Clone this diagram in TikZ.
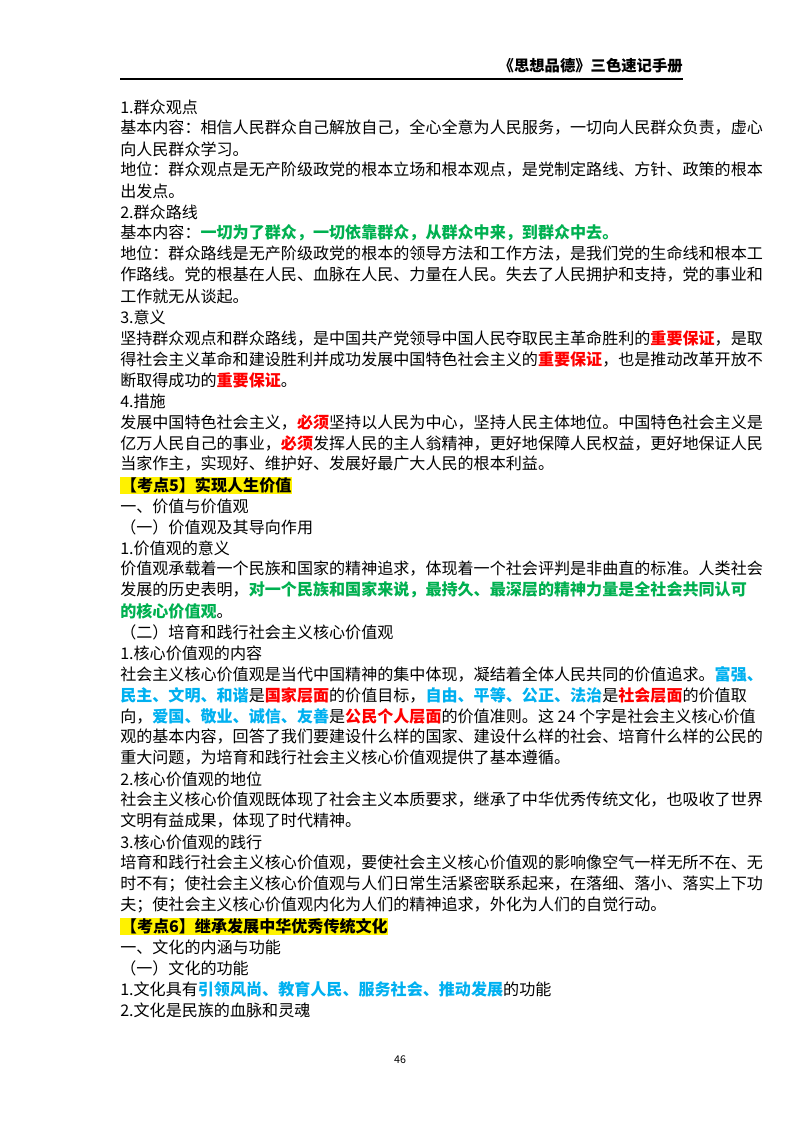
\documentclass[tikz,border=0pt]{standalone}
\usepackage{fontspec}
\setmainfont{Noto Sans CJK SC}
\definecolor{kgreen}{RGB}{0,176,80}
\definecolor{kred}{RGB}{255,0,0}
\definecolor{kblue}{RGB}{0,176,240}
\newcommand{\G}[1]{\textcolor{kgreen}{\textbf{#1}}}
\newcommand{\R}[1]{\textcolor{kred}{\textbf{#1}}}
\newcommand{\B}[1]{\textcolor{kblue}{\textbf{#1}}}
\newcommand{\HL}[1]{\colorbox{yellow}{\textbf{#1}}}
\tikzset{ln/.style={anchor=west,inner sep=0pt,font=\fontsize{12.05}{14}\selectfont}}
\setlength{\fboxsep}{0.5pt}
\begin{document}
\begin{tikzpicture}[x=0.75pt,y=-0.75pt]
\useasboundingbox (0,0) rectangle (800,1132);
\node[anchor=east,inner sep=0pt,font=\fontsize{11.5}{14}\selectfont\bfseries] (hd) at (683,66) {《思想品德》三色速记手册};
\coordinate (r1) at (120,79); \coordinate (r2) at (683,79);
\draw[line width=0.8pt] (r1) -- (r2);
\node[ln] (l1) at (120,107) {1.群众观点};
\node[ln] (l2) at (120,128) {基本内容：相信人民群众自己解放自己，全心全意为人民服务，一切向人民群众负责，虚心};
\node[ln] (l3) at (120,149) {向人民群众学习。};
\node[ln] (l4) at (120,170) {地位：群众观点是无产阶级政党的根本立场和根本观点，是党制定路线、方针、政策的根本};
\node[ln] (l5) at (120,191) {出发点。};
\node[ln] (l6) at (120,212) {2.群众路线};
\node[ln] (l7) at (120,233) {基本内容：\G{一切为了群众，一切依靠群众，从群众中来，到群众中去。}};
\node[ln] (l8) at (120,254) {地位：群众路线是无产阶级政党的根本的领导方法和工作方法，是我们党的生命线和根本工};
\node[ln] (l9) at (120,275) {作路线。党的根基在人民、血脉在人民、力量在人民。失去了人民拥护和支持，党的事业和};
\node[ln] (l10) at (120,296) {工作就无从谈起。};
\node[ln] (l11) at (120,317) {3.意义};
\node[ln] (l12) at (120,338) {坚持群众观点和群众路线，是中国共产党领导中国人民夺取民主革命胜利的\R{重要保证}，是取};
\node[ln] (l13) at (120,359) {得社会主义革命和建设胜利并成功发展中国特色社会主义的\R{重要保证}，也是推动改革开放不};
\node[ln] (l14) at (120,380) {断取得成功的\R{重要保证}。};
\node[ln] (l15) at (120,401) {4.措施};
\node[ln] (l16) at (120,422) {发展中国特色社会主义，\R{必须}坚持以人民为中心，坚持人民主体地位。中国特色社会主义是};
\node[ln] (l17) at (120,443) {亿万人民自己的事业，\R{必须}发挥人民的主人翁精神，更好地保障人民权益，更好地保证人民};
\node[ln] (l18) at (120,464) {当家作主，实现好、维护好、发展好最广大人民的根本利益。};
\node[ln] (l19) at (120,485) {\HL{【考点5】实现人生价值}};
\node[ln] (l20) at (120,506) {一、价值与价值观};
\node[ln] (l21) at (120,527) {（一）价值观及其导向作用};
\node[ln] (l22) at (120,548) {1.价值观的意义};
\node[ln] (l23) at (120,569) {价值观承载着一个民族和国家的精神追求，体现着一个社会评判是非曲直的标准。人类社会};
\node[ln] (l24) at (120,590) {发展的历史表明，\G{对一个民族和国家来说，最持久、最深层的精神力量是全社会共同认可}};
\node[ln] (l25) at (120,611) {\G{的核心价值观}。};
\node[ln] (l26) at (120,632) {（二）培育和践行社会主义核心价值观};
\node[ln] (l27) at (120,653) {1.核心价值观的内容};
\node[ln] (l28) at (120,674) {社会主义核心价值观是当代中国精神的集中体现，凝结着全体人民共同的价值追求。\B{富强、}};
\node[ln] (l29) at (120,695) {\B{民主、文明、和谐}是\R{国家层面}的价值目标，\B{自由、平等、公正、法治}是\R{社会层面}的价值取};
\node[ln] (l30) at (120,716) {向，\B{爱国、敬业、诚信、友善}是\R{公民个人层面}的价值准则。这 24 个字是社会主义核心价值};
\node[ln] (l31) at (120,737) {观的基本内容，回答了我们要建设什么样的国家、建设什么样的社会、培育什么样的公民的};
\node[ln] (l32) at (120,758) {重大问题，为培育和践行社会主义核心价值观提供了基本遵循。};
\node[ln] (l33) at (120,779) {2.核心价值观的地位};
\node[ln] (l34) at (120,800) {社会主义核心价值观既体现了社会主义本质要求，继承了中华优秀传统文化，也吸收了世界};
\node[ln] (l35) at (120,821) {文明有益成果，体现了时代精神。};
\node[ln] (l36) at (120,842) {3.核心价值观的践行};
\node[ln] (l37) at (120,863) {培育和践行社会主义核心价值观，要使社会主义核心价值观的影响像空气一样无所不在、无};
\node[ln] (l38) at (120,884) {时不有；使社会主义核心价值观与人们日常生活紧密联系起来，在落细、落小、落实上下功};
\node[ln] (l39) at (120,905) {夫；使社会主义核心价值观内化为人们的精神追求，外化为人们的自觉行动。};
\node[ln] (l40) at (120,926) {\HL{【考点6】继承发展中华优秀传统文化}};
\node[ln] (l41) at (120,947) {一、文化的内涵与功能};
\node[ln] (l42) at (120,968) {（一）文化的功能};
\node[ln] (l43) at (120,989) {1.文化具有\B{引领风尚、教育人民、服务社会、推动发展}的功能};
\node[ln] (l44) at (120,1010) {2.文化是民族的血脉和灵魂};
\node[inner sep=0pt,font=\fontsize{8}{10}\selectfont] (pg) at (400,1060) {46};
\end{tikzpicture}
\end{document}
